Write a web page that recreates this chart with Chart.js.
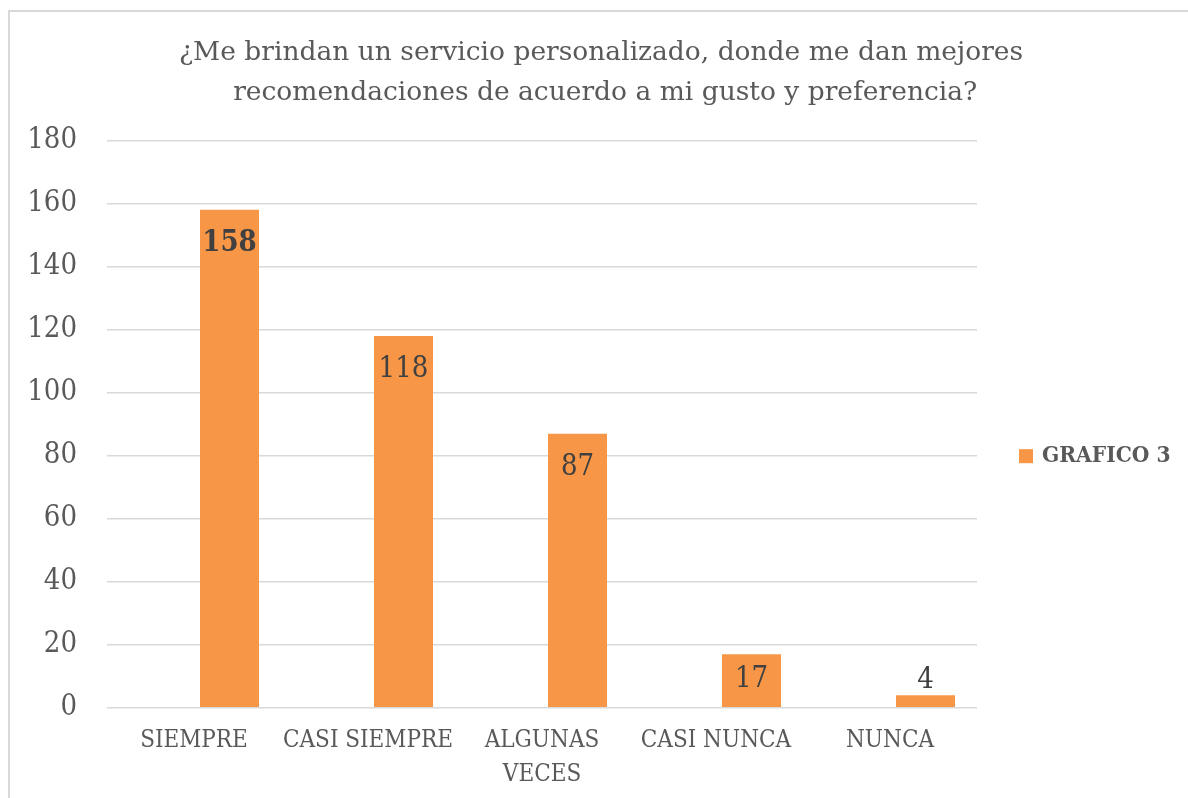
<!DOCTYPE html>
<html>
<head>
<meta charset="utf-8">
<script src="https://cdn.jsdelivr.net/npm/chart.js@4.4.1/dist/chart.umd.min.js"></script>
<style>
    body { margin: 0; background: #fff; }
    #frame { position: absolute; left: 8px; top: 10px; width: 1200px; height: 800px; border: 2px solid #d9d9d9; box-sizing: border-box; }
    #wrap { position: absolute; left: 0; top: 0; width: 1188px; height: 798px; }
</style>
</head>
<body>
<div id="frame"></div>
<div id="wrap"><canvas id="myChart" width="1188" height="798"></canvas></div>
<script>
// datos del grafico
var categories = ['SIEMPRE', 'CASI SIEMPRE', ['ALGUNAS', 'VECES'], 'CASI NUNCA', 'NUNCA'];
var values = [158, 118, 87, 17, 4];
var emptySeries = [null, null, null, null, null];
var seriesName = 'GRAFICO 3';
var titleLines = ['¿Me brindan un servicio personalizado, donde me dan mejores', ' recomendaciones de acuerdo a mi gusto y preferencia?'];
var yMin = 0, yMax = 180, yStep = 20;

var FONT = "'DejaVu Serif Condensed', 'DejaVu Serif', serif";
var TITLE_FONT = "'DejaVu Serif', serif";
var textGray = '#595959';
var barColor = '#F79646';

// etiquetas de valor dentro de la barra (como Excel)
var valueLabels = {
    id: 'valueLabels',
    afterDatasetsDraw: function (chart) {
        var ctx = chart.ctx;
        var meta = chart.getDatasetMeta(1);
        ctx.save();
        ctx.textAlign = 'center';
        ctx.textBaseline = 'middle';
        ctx.fillStyle = '#404040';
        meta.data.forEach(function (bar, i) {
            var h = bar.base - bar.y;
            var y = h > 40 ? Math.min(bar.y + 34, (bar.y + bar.base) / 2 - 1) : bar.y - 15;
            ctx.font = (i === 0 ? 'bold ' : '') + '29px ' + FONT;
            ctx.fillText(values[i], bar.x, y);
        });
        ctx.restore();
    }
};

// leyenda a la derecha
var sideLegend = {
    id: 'sideLegend',
    afterDraw: function (chart) {
        var ctx = chart.ctx;
        var ds = chart.data.datasets[1];
        var area = chart.chartArea;
        var x = area.right + 42;
        var y = (area.top + area.bottom) / 2 + 32;
        ctx.save();
        ctx.fillStyle = ds.backgroundColor;
        ctx.fillRect(x, y - 7, 14, 14);
        ctx.fillStyle = textGray;
        ctx.font = 'bold 22.5px ' + FONT;
        ctx.textAlign = 'left';
        ctx.textBaseline = 'middle';
        ctx.fillText(ds.label, x + 23, y);
        ctx.restore();
    }
};

var ctx = document.getElementById('myChart').getContext('2d');
window.myChart = new Chart(ctx, {
    type: 'bar',
    data: {
        labels: categories,
        datasets: [
            { label: '', data: emptySeries, backgroundColor: 'rgba(0,0,0,0)' },
            { label: seriesName, data: values, backgroundColor: barColor }
        ]
    },
    options: {
        responsive: false,
        animation: false,
        devicePixelRatio: 1,
        categoryPercentage: 0.816,
        barPercentage: 0.831,
        layout: { padding: { left: 14, right: 0, top: 0, bottom: -10 } },
        plugins: {
            legend: { display: false },
            tooltip: { enabled: false },
            title: {
                display: true,
                text: titleLines,
                color: textGray,
                font: { family: TITLE_FONT, size: 26.5, weight: 'normal', lineHeight: 1.5 },
                padding: { top: 33, bottom: 28 }
            }
        },
        scales: {
            x: {
                grid: { display: false, drawTicks: false },
                border: { display: false },
                ticks: {
                    color: textGray,
                    font: { family: FONT, size: 24, lineHeight: 1.42 },
                    padding: 16,
                    maxRotation: 0,
                    autoSkip: false
                }
            },
            y: {
                min: yMin,
                max: yMax,
                border: { display: false },
                grid: { color: '#d9d9d9', lineWidth: 1.5, drawTicks: false },
                ticks: {
                    stepSize: yStep,
                    color: textGray,
                    font: { family: FONT, size: 29 },
                    padding: 30
                },
                afterFit: function (scale) { scale.width = 93; }
            },
            // eje vacio: reserva el espacio de la leyenda
            y2: {
                position: 'right',
                grid: { display: false },
                border: { display: false },
                ticks: { display: false },
                afterFit: function (scale) { scale.width = 211; }
            }
        }
    },
    plugins: [valueLabels, sideLegend]
});
</script>
</body>
</html>
